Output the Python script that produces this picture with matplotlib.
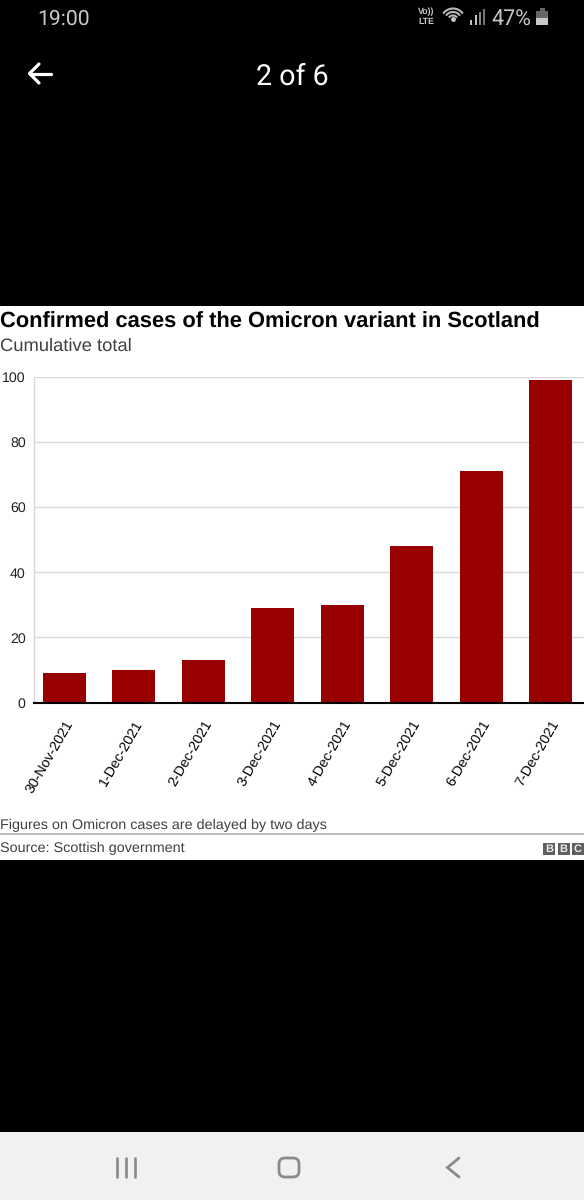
import matplotlib
matplotlib.use("Agg")
import matplotlib.pyplot as plt
from matplotlib.patches import Rectangle, FancyBboxPatch, Arc

dates = ["30-Nov-2021", "1-Dec-2021", "2-Dec-2021", "3-Dec-2021",
         "4-Dec-2021", "5-Dec-2021", "6-Dec-2021", "7-Dec-2021"]
cases = [9, 10, 13, 29, 30, 48, 71, 99]
y_ticks = [0, 20, 40, 60, 80, 100]

W, H = 584, 1200
plt.rcParams["font.family"] = ["Liberation Sans", "DejaVu Sans"]
plt.rcParams["text.hinting"] = "no_hinting"
fig = plt.figure(figsize=(W / 100, H / 100), dpi=100, facecolor="black")

# Screen layer in pixel coordinates
bg = fig.add_axes([0, 0, 1, 1], zorder=0)
bg.set_xlim(0, W); bg.set_ylim(H, 0); bg.axis("off")
bg.add_patch(Rectangle((0, 306), W, 553.5, fc="white", ec="none"))
bg.add_patch(Rectangle((0, 1132), W, 68, fc="#f1f1f1", ec="none"))

# Status bar
bg.text(37, 19.5, "19:00", color="#c8c8c8", fontsize=15.2, family="Roboto", va="center", ha="left")
bg.text(426, 12, "Vo))", color="#c8c8c8", fontsize=6.3, fontweight="bold", va="center", ha="center")
bg.text(426, 21.5, "LTE", color="#c8c8c8", fontsize=6.3, fontweight="bold", va="center", ha="center")
for r in [12, 8.5, 5]:
    bg.add_patch(Arc((453, 20.5), r * 2, r * 2, theta1=215, theta2=325, ec="#b8b8b8", lw=1.5))
bg.plot([453], [19], marker="o", ms=2.5, color="#c8c8c8")
for x, top, col in [(471, 20, "#c8c8c8"), (476, 15, "#c8c8c8"), (479.5, 12, "#8a8a8a"), (483.5, 9, "#777777")]:
    bg.plot([x, x], [top, 25], color=col, lw=1.4, solid_capstyle="butt")
bg.text(491.5, 19.5, "47%", color="#c8c8c8", fontsize=15.5, family="Roboto", va="center", ha="left")
bg.add_patch(Rectangle((536, 11), 12, 14, fc="#666666", ec="none"))
bg.add_patch(Rectangle((539.5, 8), 5, 3, fc="#666666", ec="none"))
bg.add_patch(Rectangle((536, 18), 12, 7, fc="#c8c8c8", ec="none"))

# Header
bg.plot([29.5, 51], [73.5, 73.5], color="white", lw=2.3, solid_capstyle="round")
bg.plot([39, 29.5, 39], [64, 73.5, 83], color="white", lw=2.3, solid_capstyle="round", solid_joinstyle="round")
bg.text(292, 76.5, "2 of 6", color="white", fontsize=20.6, family="Roboto", va="center", ha="center")

# Chart text
bg.text(0, 322, "Confirmed cases of the Omicron variant in Scotland", color="black",
        fontsize=15.75, fontweight="bold", va="center", ha="left")
bg.text(0, 346, "Cumulative total", color="#404040", fontsize=13.2, va="center", ha="left")
bg.text(0, 825, "Figures on Omicron cases are delayed by two days", color="#404040",
        fontsize=10.4, va="center", ha="left")
bg.plot([0, W], [834, 834], color="#a8a8a8", lw=1.1)
bg.text(0, 848, "Source: Scottish government", color="#404040", fontsize=10.4, va="center", ha="left")

# BBC logo
for x, ch in zip([543, 557.5, 572], "BBC"):
    bg.add_patch(Rectangle((x, 843), 12, 11.5, fc="#5f5f5f", ec="none"))
    bg.text(x + 6, 849, ch, color="#e8e8e8", fontsize=8, fontweight="bold", va="center", ha="center")

# Navigation bar
for x in [117, 126, 135]:
    bg.plot([x, x], [1158, 1177], color="#8a8a8a", lw=1.9, solid_capstyle="round")
bg.add_patch(FancyBboxPatch((279, 1158), 20, 19, boxstyle="round,pad=0,rounding_size=6",
                            fc="none", ec="#8a8a8a", lw=2))
bg.plot([459, 447.5, 459], [1158, 1167.5, 1177], color="#8a8a8a", lw=2,
        solid_capstyle="round", solid_joinstyle="miter")

# Chart
y0, y100 = 702.5, 377.0
ax = fig.add_axes([34 / W, 1 - y0 / H, (W - 34) / W, (y0 - y100) / H], zorder=1)
ax.patch.set_alpha(0)
ax.bar(range(len(cases)), cases, width=0.62, color="#990000", zorder=3)
ax.set_xlim(-0.439, 7.482)
ax.set_ylim(0, 100)
ax.set_yticks(y_ticks)
ax.set_xticks(range(len(dates)))
ax.set_xticklabels(dates, rotation=60, ha="right", va="top", rotation_mode="anchor", fontsize=10.2, color="black")
ax.tick_params(axis="x", length=0, pad=11)
ax.tick_params(axis="y", length=0, pad=6, labelsize=10.2, labelcolor="#222222")
ax.grid(axis="y", color="#d9d9d9", lw=1.0, zorder=0)
ax.set_axisbelow(True)
for s in ["top", "right"]:
    ax.spines[s].set_visible(False)
ax.spines["left"].set_color("#d9d9d9")
ax.spines["left"].set_linewidth(1.0)
ax.spines["bottom"].set_color("black")
ax.spines["bottom"].set_linewidth(1.5)
ax.spines["bottom"].set_zorder(5)

fig.savefig("out.png", dpi=100, facecolor="black")
